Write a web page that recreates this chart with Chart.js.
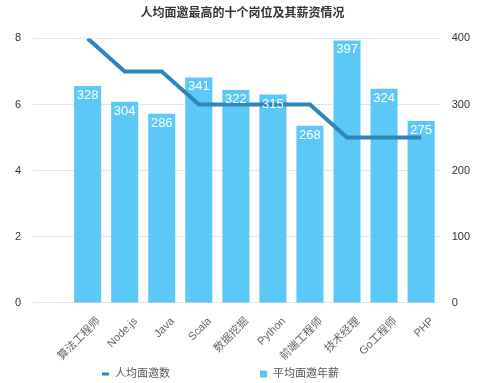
<!DOCTYPE html>
<html>
<head>
<meta charset="utf-8">
<script src="https://cdn.jsdelivr.net/npm/chart.js@4/dist/chart.umd.min.js"></script>
<style>
html,body{margin:0;padding:0;background:#fff;}
#wrap{width:500px;height:383px;position:relative;}
</style>
</head>
<body>
<div id="wrap"><canvas id="c" width="500" height="383"></canvas></div>
<script>
const title = '人均面邀最高的十个岗位及其薪资情况';
const categories = ['算法工程师','Node.js','Java','Scala','数据挖掘','Python','前端工程师','技术经理','Go工程师','PHP'];
const interviewSeriesName = '人均面邀数';
const salarySeriesName = '平均面邀年薪';
const interviews = [8,7,7,6,6,6,6,5,5,5];
const salaries = [328,304,286,341,322,315,268,397,324,275];
const leftTicks = [0,2,4,6,8];
const rightTicks = [0,100,200,300,400];

const FONT = "'Helvetica Neue', Arial, 'Liberation Sans', 'Noto Sans CJK SC', sans-serif";
const BAR_COLOR = '#5BC8F7';
const LINE_COLOR = '#2E86BC';

const barLabels = {
  id: 'barLabels',
  afterDatasetsDraw(chart) {
    const ctx = chart.ctx;
    chart.data.datasets.forEach((ds, di) => {
      if (ds.type !== 'bar') return;
      const meta = chart.getDatasetMeta(di);
      ctx.save();
      ctx.font = '13px ' + FONT;
      ctx.fillStyle = '#ffffff';
      ctx.textAlign = 'center';
      ctx.textBaseline = 'middle';
      meta.data.forEach((el, i) => {
        ctx.fillText(String(ds.data[i]), el.x, el.y + 9.5);
      });
      ctx.restore();
    });
  }
};

const customLegend = {
  id: 'customLegend',
  afterDraw(chart) {
    const ctx = chart.ctx;
    const y = 374;
    ctx.save();
    ctx.font = '11px ' + FONT;
    ctx.textBaseline = 'middle';
    ctx.textAlign = 'left';
    ctx.strokeStyle = LINE_COLOR;
    ctx.lineWidth = 3;
    ctx.beginPath();
    ctx.moveTo(102, y);
    ctx.lineTo(109, y);
    ctx.stroke();
    ctx.fillStyle = '#555';
    ctx.fillText(interviewSeriesName, 115, y);
    ctx.fillStyle = BAR_COLOR;
    ctx.fillRect(260, y - 3.5, 7, 7);
    ctx.fillStyle = '#555';
    ctx.fillText(salarySeriesName, 273, y);
    ctx.restore();
  }
};

new Chart(document.getElementById('c'), {
  data: {
    labels: categories,
    datasets: [
      {
        type: 'line',
        label: interviewSeriesName,
        data: interviews,
        yAxisID: 'y',
        borderColor: LINE_COLOR,
        backgroundColor: LINE_COLOR,
        borderWidth: 4,
        pointRadius: 0,
        tension: 0,
        order: 0
      },
      {
        type: 'bar',
        label: salarySeriesName,
        data: salaries,
        yAxisID: 'y1',
        backgroundColor: BAR_COLOR,
        borderWidth: 0,
        barPercentage: 0.73,
        categoryPercentage: 1,
        order: 1
      }
    ]
  },
  options: {
    responsive: false,
    animation: false,
    devicePixelRatio: 1,
    layout: { padding: { left: 3, right: 18, top: 0, bottom: 16 } },
    plugins: {
      legend: { display: false },
      tooltip: { enabled: false },
      title: {
        display: true,
        text: title,
        color: '#333',
        font: { family: FONT, size: 12, weight: 'bold' },
        padding: { top: 6, bottom: 18 }
      }
    },
    scales: {
      x: {
        offset: true,
        grid: { display: false },
        border: { display: false },
        ticks: {
          maxRotation: 45, minRotation: 45,
          color: '#666',
          font: { family: FONT, size: 11 },
          padding: 4,
          labelOffset: 11
        }
      },
      y: {
        position: 'left',
        min: 0, max: 8,
        afterBuildTicks(axis) { axis.ticks = leftTicks.map(v => ({ value: v })); },
        grid: { color: '#e6e6e6', lineWidth: 1, tickLength: 36, drawTicks: true },
        border: { display: false },
        ticks: { color: '#333', font: { family: FONT, size: 11 }, padding: 12 }
      },
      y1: {
        position: 'right',
        min: 0, max: 400,
        afterBuildTicks(axis) { axis.ticks = rightTicks.map(v => ({ value: v })); },
        grid: { display: false, drawTicks: false },
        border: { display: false },
        ticks: { color: '#333', font: { family: FONT, size: 11 }, padding: 12 }
      }
    }
  },
  plugins: [barLabels, customLegend]
});
</script>
</body>
</html>
